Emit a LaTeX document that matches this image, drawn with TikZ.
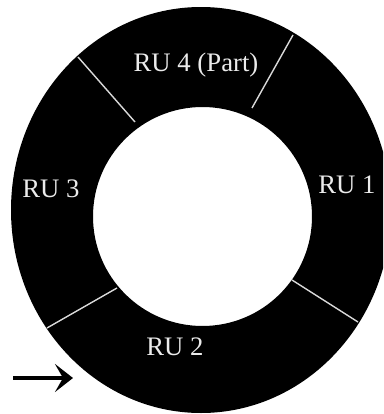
\documentclass[tikz,border=0pt]{standalone}
\usepackage{fontspec}
\setmainfont{Liberation Serif}
\usetikzlibrary{arrows.meta}

\begin{document}
\begin{tikzpicture}[
    x=0.025cm, y=-0.025cm,
    >=Stealth,
    % Define styles for the ring and its labels
    ring/.style={fill=black, even odd rule},
    divider/.style={draw=white!85!black, line width=1pt},
    rulabel/.style={text=white!92!black, font=\fontsize{19}{22}\selectfont, inner sep=0pt, anchor=base},
    pointer/.style={->, line width=2.4pt, >={Stealth[length=4.5mm, width=7mm, inset=2mm]}},
]

\useasboundingbox (0,0) rectangle (383,414);

% -------------------------
% Ring
% -------------------------
\coordinate (outerc) at (201,210);
\coordinate (innerc) at (202.5,216.5);

\begin{scope}
    \clip (0,0) rectangle (383,414);
    \fill[ring] (outerc) ellipse [x radius=190, y radius=203]
                (innerc) circle [radius=109.5];
\end{scope}

% -------------------------
% Dividers between the units
% -------------------------
\draw[divider] (135,122) -- (78,57);
\draw[divider] (252,108) -- (293,35);
\draw[divider] (117,288) -- (47,328);
\draw[divider] (292,280) -- (358,322);

% -------------------------
% Labels
% -------------------------
\node (ru4) [rulabel] at (196,71) {RU 4 (Part)};
\node (ru3) [rulabel] at (51,197) {RU 3};
\node (ru1) [rulabel] at (347,193) {RU 1};
\node (ru2) [rulabel] at (175,355) {RU 2};

% -------------------------
% Start pointer
% -------------------------
\coordinate (start) at (13,378);
\coordinate (entry) at (73,378);
\draw[pointer] (start) -- (entry);

\end{tikzpicture}
\end{document}
